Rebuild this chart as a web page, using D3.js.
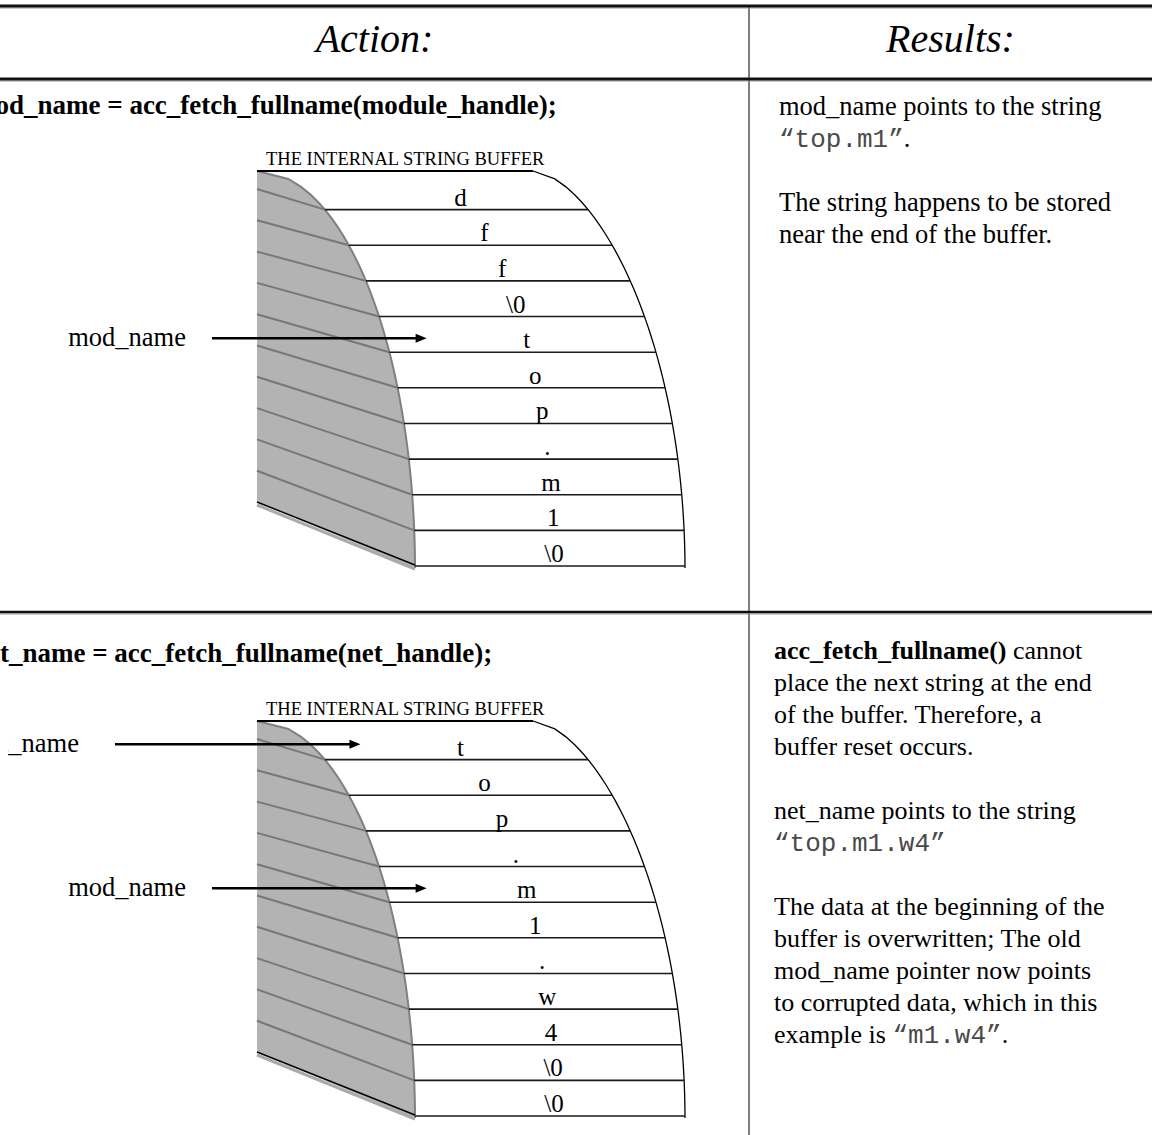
<!DOCTYPE html>
<html>
<head>
<meta charset="utf-8">
<script src="https://cdn.jsdelivr.net/npm/d3@7"></script>
<style>
  html, body { margin: 0; padding: 0; background: #fff; }
  svg { display: block; }
</style>
</head>
<body>
<div id="chart"></div>
<script>
// table headers
var headers = ["Action:", "Results:"];

// code line at the top of each row
var actionCode = [
  "mod_name = acc_fetch_fullname(module_handle);",
  "net_name = acc_fetch_fullname(net_handle);"
];

// contents of the internal string buffer, one cell per slot
var bufferBefore = ["d", "f", "f", "\\0", "t", "o", "p", ".", "m", "1", "\\0"];
var bufferAfter  = ["t", "o", "p", ".", "m", "1", ".", "w", "4", "\\0", "\\0"];

// pointers into the buffer (cell index)
var pointersBefore = [{ label: "mod_name", cell: 4 }];
var pointersAfter  = [{ label: "net_name", cell: 0 }, { label: "mod_name", cell: 4 }];

// result text, each line is a list of [style, text] runs (r = roman, b = bold, m = mono)
var resultsBefore = [
  [["r", "mod_name points to the string"]],
  [["m", "\u201ctop.m1\u201d"], ["r", "."]],
  [],
  [["r", "The string happens to be stored"]],
  [["r", "near the end of the buffer."]]
];
var resultsAfter = [
  [["b", "acc_fetch_fullname()"], ["r", " cannot"]],
  [["r", "place the next string at the end"]],
  [["r", "of the buffer. Therefore, a"]],
  [["r", "buffer reset occurs."]],
  [],
  [["r", "net_name points to the string"]],
  [["m", "\u201ctop.m1.w4\u201d"]],
  [],
  [["r", "The data at the beginning of the"]],
  [["r", "buffer is overwritten; The old"]],
  [["r", "mod_name pointer now points"]],
  [["r", "to corrupted data, which in this"]],
  [["r", "example is "], ["m", "\u201cm1.w4\u201d"], ["r", "."]]
];

var bufferLabel = "THE INTERNAL STRING BUFFER";

// ---------------------------------------------------------------
var W = 1152, H = 1135, divX = 749;
var serif = "'Liberation Serif', 'Times New Roman', serif";
var mono = "'Liberation Mono', 'Courier New', monospace";

var svg = d3.select("#chart").append("svg")
  .attr("width", W)
  .attr("height", H);

// the page was cropped a little on the left: pointer labels lose their first letter
svg.append("defs").append("clipPath").attr("id", "labelClip")
  .append("rect").attr("x", 8).attr("y", 0).attr("width", W).attr("height", H);

// table rules
function rule(y, w) {
  svg.append("line").attr("x1", 0).attr("x2", W).attr("y1", y + 2).attr("y2", y + 2)
    .attr("stroke", "#999").attr("stroke-width", 1);
  svg.append("line").attr("x1", 0).attr("x2", W).attr("y1", y).attr("y2", y)
    .attr("stroke", "#111").attr("stroke-width", w);
}
svg.append("line").attr("x1", divX).attr("x2", divX).attr("y1", 6).attr("y2", H)
  .attr("stroke", "#000").attr("stroke-width", 1);
rule(6, 3);
rule(79, 3);
rule(612, 2.5);

// headers
svg.selectAll("text.header")
  .data(headers)
  .enter().append("text")
  .attr("class", "header")
  .attr("x", function (d, i) { return i == 0 ? divX / 2 : (divX + W) / 2; })
  .attr("y", 52)
  .attr("text-anchor", "middle")
  .style("font-family", serif)
  .style("font-style", "italic")
  .style("font-size", "40px")
  .text(function (d) { return d; });

var arrowLayout = {
  net_name: { labelEnd: 79, start: 115 },
  mod_name: { labelEnd: 186, start: 212 }
};

var sections = [
  { code: actionCode[0], codeY: 114, bufTop: 171, cells: bufferBefore, pointers: pointersBefore,
    results: resultsBefore, resultX: 779, resultY: 115, resultSize: 26.5 },
  { code: actionCode[1], codeY: 662, bufTop: 721, cells: bufferAfter, pointers: pointersAfter,
    results: resultsAfter, resultX: 774, resultY: 659, resultSize: 26 }
];

sections.forEach(function (s) {
  var g = svg.append("g");

  // code line (cut at the left page edge like the original)
  g.append("text")
    .attr("x", -27)
    .attr("y", s.codeY)
    .style("font-family", serif)
    .style("font-weight", "bold")
    .style("font-size", "27px")
    .text(s.code);

  drawBuffer(g, s.cells, s.pointers, s.bufTop);

  // result text
  var t = g.append("text")
    .attr("x", s.resultX)
    .attr("y", s.resultY)
    .style("font-family", serif)
    .style("font-size", s.resultSize + "px");
  s.results.forEach(function (line, li) {
    line.forEach(function (run, ri) {
      var ts = t.append("tspan").text(run[1]);
      if (ri == 0) ts.attr("x", s.resultX).attr("y", s.resultY + li * 32);
      if (run[0] == "b") ts.style("font-weight", "bold");
      if (run[0] == "m") ts.style("font-family", mono).style("font-size", "26px").attr("fill", "#4a4a4a");
    });
  });
});

function drawBuffer(g, cells, pointers, top) {
  var leftX = 257, outerX0 = 533;
  var depth = 399;              // vertical reach of both curves
  var y = d3.scaleLinear().domain([0, cells.length]).range([top + 3, top + 395]);
  var hatchStart = d3.scaleLinear().domain([1, cells.length]).range([top + 18, top + 331]);

  function u(yy) { var v = (top + depth - yy) / depth; return Math.max(0, Math.min(1, v)); }
  function innerX(yy) { return leftX + 158 * Math.sqrt(1 - u(yy) * u(yy)); }
  function outerX(yy) { return outerX0 + 152 * Math.pow(1 - u(yy) * u(yy), 0.6); }

  var steps = d3.range(0, 1.0001, 0.02).map(function (f) { return top + f * (depth - 2); });
  var line = d3.line().x(function (d) { return d[0]; }).y(function (d) { return d[1]; });

  // shaded side of the buffer
  var shade = steps.map(function (yy) { return [innerX(yy), yy]; });
  shade.push([leftX, top + 331]);
  g.append("path")
    .attr("d", line(shade) + "Z")
    .attr("fill", "#b3b3b3");

  // hatching on the shaded side
  d3.range(1, cells.length).forEach(function (i) {
    g.append("line")
      .attr("x1", leftX).attr("y1", hatchStart(i))
      .attr("x2", innerX(y(i))).attr("y2", y(i))
      .attr("stroke", "#777").attr("stroke-width", 2);
  });

  // inner edge of the shade
  g.append("path")
    .attr("d", line(steps.map(function (yy) { return [innerX(yy), yy]; })))
    .attr("fill", "none").attr("stroke", "#808080").attr("stroke-width", 2);

  // bottom edge with its shadow
  g.append("line")
    .attr("x1", leftX).attr("y1", top + 334).attr("x2", innerX(top + 397)).attr("y2", top + 398)
    .attr("stroke", "#aaa").attr("stroke-width", 3);
  g.append("line")
    .attr("x1", leftX).attr("y1", top + 331).attr("x2", innerX(top + 394)).attr("y2", top + 394)
    .attr("stroke", "#000").attr("stroke-width", 1.5);

  // outer edge
  g.append("path")
    .attr("d", line(steps.map(function (yy) { return [outerX(yy), yy]; })))
    .attr("fill", "none").attr("stroke", "#000").attr("stroke-width", 1.3);

  // top edge
  g.append("line")
    .attr("x1", leftX).attr("x2", outerX0).attr("y1", top).attr("y2", top)
    .attr("stroke", "#000").attr("stroke-width", 1.8);

  // cell separators
  d3.range(1, cells.length + 1).forEach(function (i) {
    g.append("line")
      .attr("x1", innerX(y(i))).attr("x2", outerX(y(i)))
      .attr("y1", y(i)).attr("y2", y(i))
      .attr("stroke", "#1a1a1a").attr("stroke-width", 1.6);
  });

  // label
  g.append("text")
    .attr("x", 266).attr("y", top - 6)
    .style("font-family", serif)
    .style("font-size", "18.5px")
    .text(bufferLabel);

  function cellX(i) { return (innerX(y(i + 1)) + outerX(y(i + 1))) / 2 + 4; }
  function cellTop(i) { return i == 0 ? top : y(i); }

  // characters
  g.selectAll("text.cell")
    .data(cells)
    .enter().append("text")
    .attr("class", "cell")
    .attr("x", function (d, i) { return cellX(i); })
    .attr("y", function (d, i) { return y(i + 1) - 4; })
    .attr("text-anchor", "middle")
    .style("font-family", serif)
    .style("font-size", "25px")
    .text(function (d) { return d; });

  // pointers
  pointers.forEach(function (p) {
    var lay = arrowLayout[p.label];
    var ay = (cellTop(p.cell) + y(p.cell + 1)) / 2 + 4;
    var tip = cellX(p.cell) - 100;
    g.append("text")
      .attr("x", lay.labelEnd).attr("y", ay + 8)
      .attr("text-anchor", "end")
      .attr("clip-path", "url(#labelClip)")
      .style("font-family", serif)
      .style("font-size", "26.5px")
      .text(p.label);
    g.append("line")
      .attr("x1", lay.start).attr("x2", tip - 8)
      .attr("y1", ay).attr("y2", ay)
      .attr("stroke", "#000").attr("stroke-width", 2.5);
    g.append("path")
      .attr("d", "M" + tip + "," + ay + "L" + (tip - 11) + "," + (ay - 4.5) + "L" + (tip - 11) + "," + (ay + 4.5) + "Z")
      .attr("fill", "#000");
  });
}
</script>
</body>
</html>
